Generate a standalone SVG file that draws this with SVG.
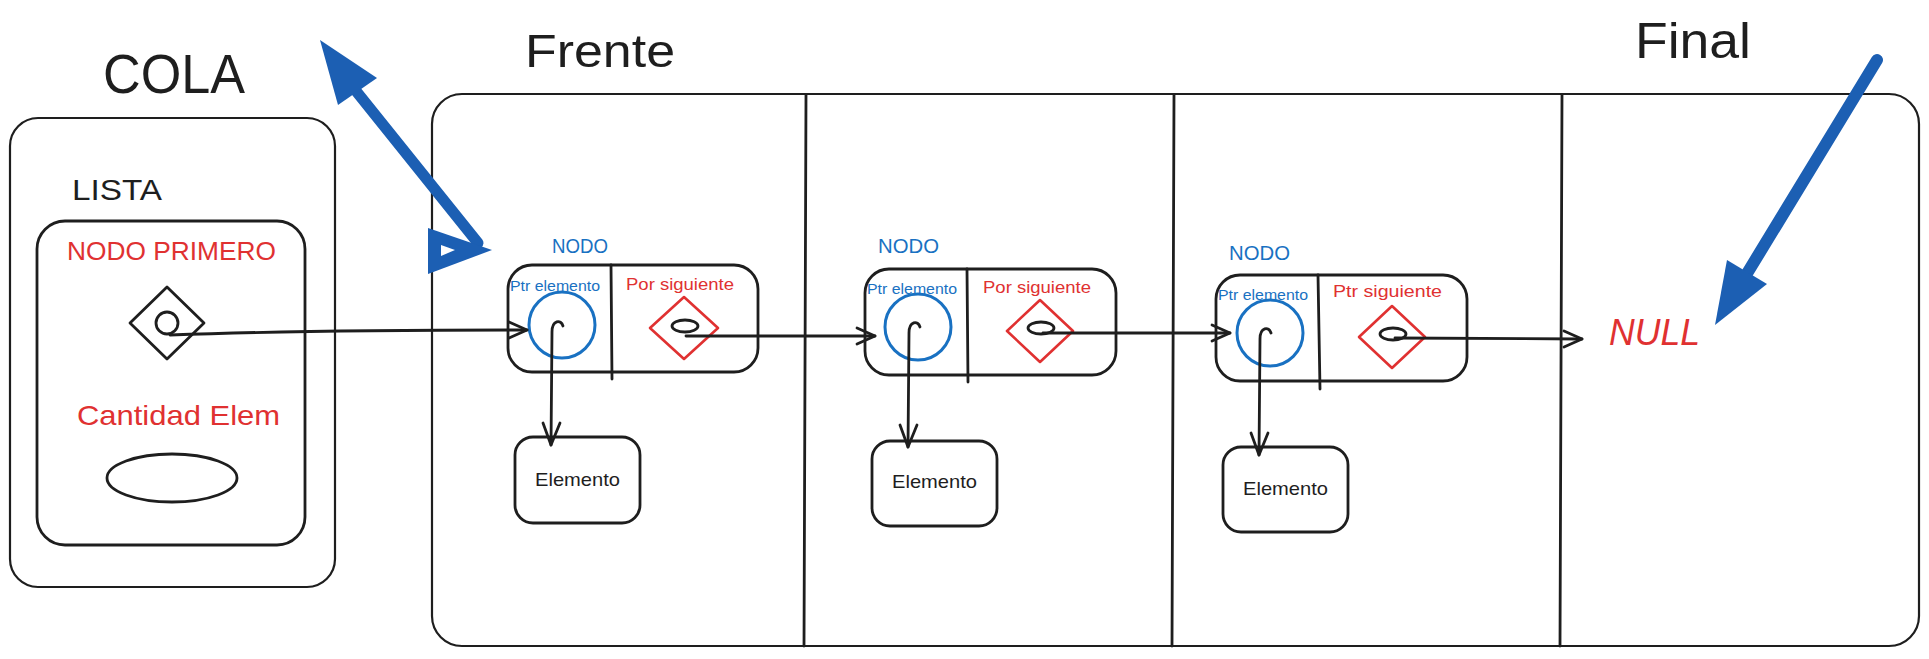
<svg xmlns="http://www.w3.org/2000/svg" width="1929" height="659" viewBox="0 0 1929 659">
<style>
.bk{fill:none;stroke:#1e1e1e;stroke-width:2.2;stroke-linecap:round;stroke-linejoin:round}
.bk3{fill:none;stroke:#1e1e1e;stroke-width:2.8;stroke-linecap:round;stroke-linejoin:round}
.bl{fill:none;stroke:#1971c2;stroke-width:3;}
.rd{fill:none;stroke:#e03131;stroke-width:2.6;stroke-linejoin:round}
.t{font-family:"Liberation Sans",Arial,sans-serif}
.tb{fill:#1e1e1e}
.tr{fill:#e03131}
.tu{fill:#1971c2}
.ba{stroke:#1c5fb3;stroke-linecap:round;fill:none}
</style>
<rect width="1929" height="659" fill="#ffffff"/>

<!-- titles -->
<text class="t tb" x="103" y="93" font-size="55" textLength="142" lengthAdjust="spacingAndGlyphs">COLA</text>
<text class="t tb" x="525" y="67" font-size="46" textLength="150" lengthAdjust="spacingAndGlyphs">Frente</text>
<text class="t tb" x="1635" y="58" font-size="50" textLength="116" lengthAdjust="spacingAndGlyphs">Final</text>

<!-- Cola / Lista -->
<g id="cola">
  <rect class="bk" x="10" y="118" width="325" height="469" rx="28"/>
  <text class="t tb" x="72" y="200" font-size="30" textLength="90" lengthAdjust="spacingAndGlyphs">LISTA</text>
</g>
<g id="lista">
  <rect class="bk3" x="37" y="221" width="268" height="324" rx="28"/>
  <text class="t tr" x="67" y="260" font-size="25" textLength="209" lengthAdjust="spacingAndGlyphs">NODO PRIMERO</text>
  <path class="bk3" d="M167,287 L204,323 L167,359 L130,323 Z"/>
  <circle class="bk3" cx="167" cy="323" r="11"/>
  <text class="t tr" x="77" y="425" font-size="28" textLength="203" lengthAdjust="spacingAndGlyphs">Cantidad Elem</text>
  <ellipse class="bk3" cx="172" cy="478" rx="65" ry="24"/>
</g>

<!-- big frame -->
<g id="frame">
  <rect class="bk" x="432" y="94" width="1487" height="552" rx="30"/>
  <line class="bk3" x1="806" y1="95" x2="804" y2="646"/>
  <line class="bk3" x1="1174" y1="95" x2="1172" y2="646"/>
  <line class="bk3" x1="1562" y1="95" x2="1560" y2="646"/>
</g>

<!-- Node 1 -->
<g id="nodo1">
  <text class="t tu" x="552" y="253" font-size="21" textLength="56" lengthAdjust="spacingAndGlyphs">NODO</text>
  <rect class="bk3" x="508" y="265" width="250" height="107" rx="24"/>
  <line class="bk3" x1="611" y1="265" x2="612" y2="379"/>
  <text class="t tu" x="510" y="291" font-size="15" textLength="90" lengthAdjust="spacingAndGlyphs">Ptr elemento</text>
  <circle class="bl" cx="562" cy="325" r="33"/>
  <text class="t tr" x="626" y="290" font-size="17" textLength="108" lengthAdjust="spacingAndGlyphs">Por siguiente</text>
  <path class="rd" d="M684,297 L718,328 L684,359 L650,328 Z"/>
  <ellipse class="bk3" cx="685" cy="326" rx="13" ry="6"/>
</g>
<g id="elem1">
  <rect class="bk3" x="515" y="437" width="125" height="86" rx="18"/>
  <text class="t tb" x="535" y="486" font-size="19" textLength="85" lengthAdjust="spacingAndGlyphs">Elemento</text>
</g>

<!-- Node 2 -->
<g id="nodo2">
  <text class="t tu" x="878" y="253" font-size="21" textLength="61" lengthAdjust="spacingAndGlyphs">NODO</text>
  <rect class="bk3" x="865" y="269" width="251" height="106" rx="24"/>
  <line class="bk3" x1="967" y1="269" x2="968" y2="382"/>
  <text class="t tu" x="867" y="294" font-size="15" textLength="90" lengthAdjust="spacingAndGlyphs">Ptr elemento</text>
  <circle class="bl" cx="918" cy="327" r="33"/>
  <text class="t tr" x="983" y="293" font-size="17" textLength="108" lengthAdjust="spacingAndGlyphs">Por siguiente</text>
  <path class="rd" d="M1040,300 L1073,331 L1040,362 L1007,331 Z"/>
  <ellipse class="bk3" cx="1041" cy="328" rx="13" ry="6"/>
</g>
<g id="elem2">
  <rect class="bk3" x="872" y="441" width="125" height="85" rx="18"/>
  <text class="t tb" x="892" y="488" font-size="19" textLength="85" lengthAdjust="spacingAndGlyphs">Elemento</text>
</g>

<!-- Node 3 -->
<g id="nodo3">
  <text class="t tu" x="1229" y="260" font-size="21" textLength="61" lengthAdjust="spacingAndGlyphs">NODO</text>
  <rect class="bk3" x="1216" y="275" width="251" height="106" rx="24"/>
  <line class="bk3" x1="1318" y1="275" x2="1320" y2="389"/>
  <text class="t tu" x="1218" y="300" font-size="15" textLength="90" lengthAdjust="spacingAndGlyphs">Ptr elemento</text>
  <circle class="bl" cx="1270" cy="333" r="33"/>
  <text class="t tr" x="1333" y="297" font-size="17" textLength="109" lengthAdjust="spacingAndGlyphs">Ptr siguiente</text>
  <path class="rd" d="M1392,306 L1425,337 L1392,368 L1359,337 Z"/>
  <ellipse class="bk3" cx="1393" cy="334" rx="13" ry="6"/>
</g>
<g id="elem3">
  <rect class="bk3" x="1223" y="447" width="125" height="85" rx="18"/>
  <text class="t tb" x="1243" y="495" font-size="19" textLength="85" lengthAdjust="spacingAndGlyphs">Elemento</text>
</g>

<g id="null">
  <text class="t tr" x="1609" y="345" font-size="37" font-style="italic" textLength="91" lengthAdjust="spacingAndGlyphs">NULL</text>
</g>

<!-- connectors -->
<g id="connectors">
  <!-- LISTA -> nodo1 -->
  <path class="bk3" d="M170,335 C250,332 400,330 527,330"/>
  <path class="bk3" d="M509,322 L527,330 L509,338"/>
  <!-- nodo1 -> nodo2 -->
  <path class="bk3" d="M686,336 L875,336"/>
  <path class="bk3" d="M857,328 L875,336 L857,344"/>
  <!-- nodo2 -> nodo3 -->
  <path class="bk3" d="M1043,333 L1230,333"/>
  <path class="bk3" d="M1212,325 L1230,333 L1212,341"/>
  <!-- nodo3 -> NULL -->
  <path class="bk3" d="M1395,338 L1582,339"/>
  <path class="bk3" d="M1564,331 L1582,339 L1564,347"/>
  <!-- ptr elemento -> Elemento -->
  <path class="bk3" d="M563,326 C561,319 552,320 552,332 L551,445"/>
  <path class="bk3" d="M543,423 L551,445 L560,423"/>
  <path class="bk3" d="M920,327 C918,320 909,321 909,333 L908,447"/>
  <path class="bk3" d="M900,425 L908,447 L917,425"/>
  <path class="bk3" d="M1271,333 C1269,326 1260,327 1260,339 L1259,455"/>
  <path class="bk3" d="M1251,433 L1259,455 L1268,433"/>
  <!-- blue double arrow to Frente -->
  <line class="ba" x1="352" y1="86" x2="478" y2="243" stroke-width="11"/>
  <polygon points="320,40 377,78 338,105" fill="#1c5fb3"/>
  <polygon points="428,228 492,250 428,274" fill="#1c5fb3"/>
  <polygon points="441,245 455,250 441,256" fill="#ffffff"/>
  <!-- blue arrow to Final -->
  <line class="ba" x1="1877" y1="60" x2="1740" y2="285" stroke-width="12"/>
  <polygon points="1715,325 1727,260 1767,284" fill="#1c5fb3"/>
</g>
</svg>
